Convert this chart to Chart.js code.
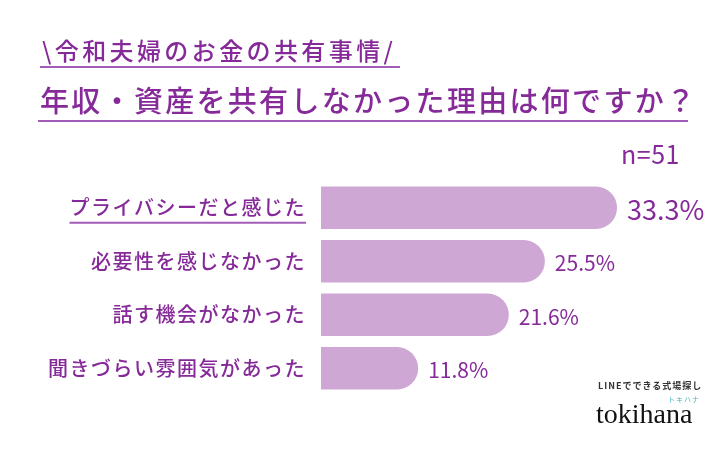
<!DOCTYPE html>
<html lang="ja">
<head>
<meta charset="UTF-8">
<title>年収・資産を共有しなかった理由</title>
<script src="https://cdn.jsdelivr.net/npm/chart.js"></script>
<style>
    body { margin: 0; background: #fff; }
    #wrap { position: relative; width: 720px; height: 450px; overflow: hidden; font-family: "Noto Sans CJK JP", "Noto Sans", sans-serif; color: #862a99; }
    #chart { position: absolute; left: 0; top: 0; }
    .t { position: absolute; white-space: nowrap; line-height: 1; }
    #sub { left: 42px; top: 38px; font-size: 24px; letter-spacing: 3.4px; font-weight: 500; }
    #main { left: 40px; top: 85px; font-size: 29px; letter-spacing: 2.3px; font-weight: 500; }
    .uline { position: absolute; height: 2px; background: #a35cb8; }
    #n { left: 621px; top: 141px; font-size: 25px; letter-spacing: 0.5px; }
    #line { left: 598px; top: 381px; font-size: 9px; letter-spacing: 1px; color: #333; font-weight: bold; }
    #kana { left: 668px; top: 396px; font-size: 7px; letter-spacing: 1px; color: #3fb3b8; }
    #logo { left: 596px; top: 400px; font-size: 28px; font-family: "Liberation Serif", "DejaVu Serif", serif; color: #111; }
</style>
</head>
<body>
<div id="wrap">
    <canvas id="chart" width="720" height="450"></canvas>
    <div class="t" id="sub">\令和夫婦のお金の共有事情/</div>
    <div class="uline" style="left:40px; top:66px; width:360px;"></div>
    <div class="t" id="main">年収・資産を共有しなかった理由は何ですか？</div>
    <div class="uline" style="left:38px; top:120px; width:650px;"></div>
    <div class="t" id="n">n=51</div>
    <div class="t" id="line">LINEでできる式場探し</div>
    <div class="t" id="kana">トキハナ</div>
    <div class="t" id="logo">tokihana</div>
</div>
<script>
    // Data
    let reasons = ["プライバシーだと感じた", "必要性を感じなかった", "話す機会がなかった", "聞きづらい雰囲気があった"];
    let shares = [33.3, 25.5, 21.6, 11.8];
    let shareLabels = ["33.3%", "25.5%", "21.6%", "11.8%"];

    let textColor = "#862a99";
    let labelFont = '"Noto Sans CJK JP", "Noto Sans", sans-serif';

    // spacing between letters of the category labels
    let spacingPlugin = {
        id: "spacing",
        beforeDraw(chart) { chart.ctx.letterSpacing = "1.5px"; },
        afterDraw(chart) { chart.ctx.letterSpacing = "0px"; }
    };

    // values next to the bars, underline under the first label
    let valuePlugin = {
        id: "values",
        afterDatasetsDraw(chart) {
            let ctx = chart.ctx;
            let meta = chart.getDatasetMeta(0);
            ctx.save();
            ctx.letterSpacing = "0px";
            ctx.fillStyle = textColor;
            ctx.textBaseline = "middle";
            ctx.textAlign = "left";
            meta.data.forEach(function(bar, i) {
                ctx.font = (i === 0 ? "27px " : "21px ") + labelFont;
                ctx.fillText(shareLabels[i], bar.x + 10, bar.y + 2);
            });

            // underline first category
            let yScale = chart.scales.y;
            ctx.letterSpacing = "1.5px";
            ctx.font = "500 20px " + labelFont;
            let w = ctx.measureText(reasons[0]).width;
            let right = chart.chartArea.left - 15;
            let y = yScale.getPixelForValue(0) + 15;
            ctx.strokeStyle = "#a35cb8";
            ctx.lineWidth = 2;
            ctx.beginPath();
            ctx.moveTo(right - w, y);
            ctx.lineTo(right, y);
            ctx.stroke();
            ctx.restore();
        }
    };

    let barData = {
        labels: reasons,
        datasets: [{
            data: shares,
            backgroundColor: "#cfa7d5",
            borderRadius: { topLeft: 0, bottomLeft: 0, topRight: 21, bottomRight: 21 },
            borderSkipped: false,
            barPercentage: 0.79,
            categoryPercentage: 1
        }]
    };

    let barConfig = {
        type: "bar",
        data: barData,
        options: {
            indexAxis: "y",
            responsive: false,
            animation: false,
            layout: { padding: { left: 0, top: 181, right: 41, bottom: 55 } },
            plugins: {
                legend: { display: false },
                tooltip: { enabled: false }
            },
            scales: {
                x: {
                    display: false,
                    min: 1.3,
                    max: 40
                },
                y: {
                    grid: { display: false, drawTicks: false },
                    border: { display: false },
                    afterFit: function(scale) { scale.width = 321; },
                    ticks: {
                        padding: 15,
                        color: textColor,
                        font: { family: labelFont, size: 20, weight: "500" }
                    }
                }
            }
        },
        plugins: [spacingPlugin, valuePlugin]
    };

    new Chart(document.getElementById("chart"), barConfig);
</script>
</body>
</html>
